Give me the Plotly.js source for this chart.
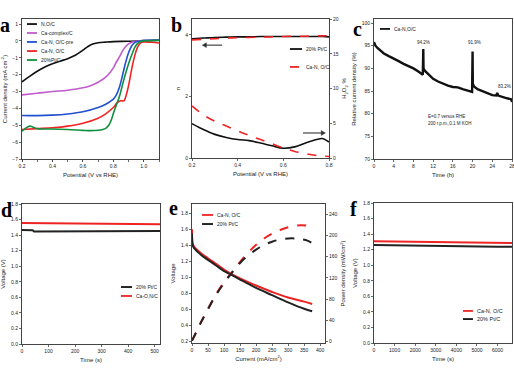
<!DOCTYPE html>
<html><head><meta charset="utf-8">
<script src="https://cdn.plot.ly/plotly-3.0.1.min.js"></script>
<style>html,body{margin:0;padding:0;background:#fff}#chart{width:514px;height:386px}</style>
</head><body><div id="chart"></div>
<script>
// ---------- Panel a : LSV curves ----------
const aNames = ['N,O/C','Ca-complex/C','Ca-N, O/C-pre','Ca-N, O/C','20%Pt/C'];
const aX_NOC = [0.2,0.25,0.3,0.35,0.4,0.45,0.5,0.55,0.6,0.63,0.66,0.7,0.75,0.8,0.9,1.0,1.1];
const aY_NOC = [-2.42,-2.1,-1.8,-1.55,-1.35,-1.2,-1.05,-0.85,-0.55,-0.35,-0.2,-0.11,-0.07,-0.04,-0.02,0.02,0.04];
const aX_Cplx = [0.2,0.3,0.4,0.5,0.6,0.65,0.7,0.75,0.78,0.8,0.82,0.84,0.86,0.88,0.9,0.92,0.95,1.0,1.1];
const aY_Cplx = [-3.2,-3.1,-3.0,-2.92,-2.78,-2.65,-2.45,-2.15,-1.85,-1.6,-1.25,-0.95,-0.6,-0.35,-0.18,-0.08,-0.02,0.02,0.04];
const aX_Pre = [0.2,0.3,0.4,0.5,0.6,0.7,0.75,0.8,0.82,0.84,0.86,0.88,0.9,0.92,0.94,0.96,1.0,1.1];
const aY_Pre = [-4.42,-4.43,-4.4,-4.33,-4.2,-3.95,-3.75,-3.45,-3.2,-2.75,-2.05,-1.3,-0.7,-0.3,-0.1,-0.03,0.02,0.05];
const aX_CaNOC = [0.2,0.3,0.4,0.5,0.6,0.7,0.75,0.8,0.83,0.85,0.87,0.88,0.9,0.92,0.94,0.96,0.98,1.0,1.05,1.1];
const aY_CaNOC = [-5.25,-5.2,-5.15,-5.05,-4.88,-4.58,-4.32,-3.95,-3.62,-3.55,-3.55,-3.35,-2.65,-1.7,-0.9,-0.35,-0.12,-0.06,-0.08,-0.12];
const aX_Pt = [0.2,0.22,0.25,0.27,0.3,0.35,0.4,0.5,0.6,0.65,0.7,0.73,0.75,0.77,0.79,0.8,0.82,0.84,0.86,0.88,0.9,0.92,0.94,0.96,0.98,1.0,1.1];
const aY_Pt = [-5.35,-5.2,-5.05,-5.1,-5.2,-5.22,-5.22,-5.25,-5.3,-5.32,-5.3,-5.25,-5.18,-5.0,-4.6,-4.3,-3.8,-3.3,-2.6,-1.95,-1.35,-0.85,-0.4,-0.15,-0.04,0.0,0.03];
const aColors = ['#111111','#c05ccc','#2150d0','#ee2424','#10903e'];

// ---------- Panel b : n and H2O2 % ----------
const bNames = ['20% Pt/C','Ca-N, O/C'];
const bPotential = [0.2,0.25,0.3,0.35,0.4,0.45,0.5,0.55,0.6,0.65,0.7,0.75,0.77,0.8];
const bN_Pt = [3.88,3.9,3.92,3.93,3.94,3.94,3.95,3.95,3.95,3.95,3.95,3.95,3.95,3.94];
const bN_CaNOC = [3.84,3.86,3.88,3.9,3.91,3.92,3.93,3.94,3.95,3.96,3.96,3.97,3.97,3.98];
const bH2O2_Pt = [4.95,4.1,3.4,2.95,2.65,2.5,2.15,1.75,1.4,1.6,2.2,2.7,2.8,2.3];
const bH2O2_CaNOC = [7.5,6.2,5.3,4.6,3.9,3.25,2.65,2.05,1.45,0.95,0.6,0.35,0.28,0.22];

// ---------- Panel c : chronoamperometry ----------
const cName = 'Ca-N,O/C';
const cTime = [0,0.3,0.7,1,1.5,2,3,4,5,6,7,8,9,9.9,10.0,10.05,10.3,11,12,13,14,15,16,17,18,19,19.9,20.0,20.05,20.3,21,22,23,24,24.8,25,25.2,26,27,27.8,28];
const cRel = [95.8,95.0,94.5,94.2,93.7,93.3,92.7,92.2,91.6,91.0,90.5,90.0,89.3,88.6,94.3,90.0,89.5,88.7,87.7,87.1,86.6,86.2,85.9,85.8,85.4,85.1,84.8,93.7,86.6,86.0,85.4,85.0,84.6,84.1,84.0,84.6,84.0,83.7,83.4,83.2,82.6];
const cLabels = ['94.2%','91.9%','83.2%'];
const cLabelX = [10.1,20.4,26.5];
const cLabelY = [95.8,95.8,85.9];
const cNote = ['E=0.7 versus RHE','200 r.p.m.,0.1 M KOH'];

// ---------- Panel d : voltage vs time ----------
const dNames = ['20% Pt/C','Ca-O,N/C'];
const dTimePt = [0,10,40,45,100,200,300,400,460,470,520];
const dVoltPt = [1.465,1.465,1.462,1.448,1.448,1.448,1.447,1.447,1.447,1.455,1.452];
const dTimeCa = [0,100,200,300,400,520];
const dVoltCa = [1.555,1.553,1.55,1.547,1.543,1.54];

// ---------- Panel e : polarization & power ----------
const eNames = ['Ca-N, O/C','20% Pt/C'];
const eCurrentV = [0,1,3,6,10,20,35,50,75,100,125,150,200,250,300,350,375];
const eVoltCa = [1.6,1.45,1.41,1.39,1.37,1.33,1.28,1.24,1.17,1.1,1.04,0.99,0.9,0.82,0.75,0.7,0.67];
const eVoltPt = [1.55,1.43,1.39,1.37,1.35,1.31,1.26,1.22,1.15,1.08,1.03,0.975,0.87,0.78,0.69,0.61,0.58];
const eCurrentP = [0,10,25,50,75,100,125,150,175,200,225,250,275,300,325,340,360,375];
const ePowerCa = [2,14,33,62,89,112,131,150,167,182,194,203,210,215,218,219,218,214];
const ePowerPt = [2,14,33,61,88,110,130,148,162,173,182,188,192,194,194,193,190,185];

// ---------- Panel f : voltage vs time ----------
const fNames = ['Ca-N, O/C','20% Pt/C'];
const fTime = [0,1000,2000,3000,4000,5000,6000,6700];
const fVoltCa = [1.307,1.303,1.298,1.295,1.292,1.289,1.287,1.286];
const fVoltPt = [1.26,1.255,1.25,1.247,1.244,1.241,1.239,1.238];

const RED = '#ee2424', BLACK = '#111111';
const FONT = 'Liberation Sans, Arial, sans-serif';

function dx(l, r) { return [l / 514, r / 514]; }
function dy(t, b) { return [1 - b / 386, 1 - t / 386]; }
function ax(extra) {
  return Object.assign({
    showgrid: false, zeroline: false, showline: true, linecolor: '#444', linewidth: 1,
    mirror: true, ticks: 'outside', ticklen: 2, tickwidth: 0.8, tickcolor: '#444',
    ticklabeloverflow: 'allow',
    tickfont: { size: 5, family: FONT, color: '#222' }, fixedrange: true
  }, extra);
}
function ttl(text, standoff) { return { text: text, font: { size: 6, family: FONT, color: '#222' }, standoff: standoff }; }

const traces = [];
const aXs = [aX_NOC, aX_Cplx, aX_Pre, aX_CaNOC, aX_Pt];
const aYs = [aY_NOC, aY_Cplx, aY_Pre, aY_CaNOC, aY_Pt];
aNames.forEach((n, i) => traces.push({ x: aXs[i], y: aYs[i], name: n, mode: 'lines', line: { color: aColors[i], width: 1.6, shape: 'spline' }, xaxis: 'x', yaxis: 'y' }));

traces.push({ x: bPotential, y: bN_Pt, name: bNames[0], mode: 'lines', line: { color: BLACK, width: 1.6, shape: 'spline' }, xaxis: 'x2', yaxis: 'y2' });
traces.push({ x: bPotential, y: bN_CaNOC, name: bNames[1], mode: 'lines', line: { color: RED, width: 1.6, dash: 'dash', shape: 'spline' }, xaxis: 'x2', yaxis: 'y2' });
traces.push({ x: bPotential, y: bH2O2_Pt, name: bNames[0], mode: 'lines', line: { color: BLACK, width: 1.6, shape: 'spline' }, xaxis: 'x2', yaxis: 'y3' });
traces.push({ x: bPotential, y: bH2O2_CaNOC, name: bNames[1], mode: 'lines', line: { color: RED, width: 1.6, dash: 'dash', shape: 'spline' }, xaxis: 'x2', yaxis: 'y3' });

traces.push({ x: cTime, y: cRel, name: cName, mode: 'lines', line: { color: BLACK, width: 2.4 }, xaxis: 'x3', yaxis: 'y4' });

traces.push({ x: dTimePt, y: dVoltPt, name: dNames[0], mode: 'lines', line: { color: '#222', width: 2 }, xaxis: 'x4', yaxis: 'y5' });
traces.push({ x: dTimeCa, y: dVoltCa, name: dNames[1], mode: 'lines', line: { color: RED, width: 2 }, xaxis: 'x4', yaxis: 'y5' });

traces.push({ x: eCurrentV, y: eVoltCa, name: eNames[0], mode: 'lines', line: { color: RED, width: 2, shape: 'spline' }, xaxis: 'x5', yaxis: 'y6' });
traces.push({ x: eCurrentV, y: eVoltPt, name: eNames[1], mode: 'lines', line: { color: '#222', width: 2, shape: 'spline' }, xaxis: 'x5', yaxis: 'y6' });
traces.push({ x: eCurrentP, y: ePowerCa, name: eNames[0], mode: 'lines', line: { color: RED, width: 2, dash: 'dash', shape: 'spline' }, xaxis: 'x5', yaxis: 'y7' });
traces.push({ x: eCurrentP, y: ePowerPt, name: eNames[1], mode: 'lines', line: { color: '#222', width: 2, dash: 'dash', shape: 'spline' }, xaxis: 'x5', yaxis: 'y7' });

traces.push({ x: fTime, y: fVoltCa, name: fNames[0], mode: 'lines', line: { color: RED, width: 2 }, xaxis: 'x6', yaxis: 'y8' });
traces.push({ x: fTime, y: fVoltPt, name: fNames[1], mode: 'lines', line: { color: '#222', width: 2 }, xaxis: 'x6', yaxis: 'y8' });

// legends drawn as short line samples + text, relative to each subplot's domain
const shapes = [], annotations = [];
function legendItem(xr, yr, x0, x1, y, color, dash, text, size) {
  shapes.push({ type: 'line', xref: xr + ' domain', yref: yr + ' domain', x0: x0, x1: x1, y0: y, y1: y, line: { color: color, width: 1.8, dash: dash || 'solid' } });
  annotations.push({ xref: xr + ' domain', yref: yr + ' domain', x: x1 + 0.015, y: y, text: text, showarrow: false, xanchor: 'left', yanchor: 'middle', font: { size: size || 5, family: FONT, color: '#222' } });
}
const aLegY = [0.964, 0.9, 0.836, 0.771, 0.707];
aNames.forEach((n, i) => legendItem('x', 'y', 0.036, 0.109, aLegY[i], aColors[i], 'solid', n));
legendItem('x2', 'y2', 0.715, 0.803, 0.784, BLACK, 'solid', bNames[0]);
legendItem('x2', 'y2', 0.715, 0.803, 0.655, RED, 'dash', bNames[1]);
legendItem('x3', 'y4', 0.043, 0.116, 0.929, BLACK, 'solid', cName);
legendItem('x4', 'y5', 0.717, 0.797, 0.407, BLACK, 'solid', dNames[0]);
legendItem('x4', 'y5', 0.717, 0.797, 0.343, RED, 'solid', dNames[1]);
legendItem('x5', 'y6', 0.075, 0.158, 0.921, RED, 'solid', eNames[0]);
legendItem('x5', 'y6', 0.075, 0.158, 0.856, BLACK, 'solid', eNames[1]);
legendItem('x6', 'y8', 0.645, 0.717, 0.229, RED, 'solid', fNames[0], 5.5);
legendItem('x6', 'y8', 0.645, 0.717, 0.171, BLACK, 'solid', fNames[1], 5.5);

// panel c text
cLabels.forEach((t, i) => annotations.push({ xref: 'x3', yref: 'y4', x: cLabelX[i], y: cLabelY[i], text: t, showarrow: false, font: { size: 4.5, family: FONT, color: '#222' } }));
annotations.push({ xref: 'x3', yref: 'y4', x: 10.5, y: 79.4, text: cNote[0], showarrow: false, xanchor: 'left', font: { size: 4.5, family: FONT, color: '#222' } });
annotations.push({ xref: 'x3', yref: 'y4', x: 10.5, y: 77.9, text: cNote[1], showarrow: false, xanchor: 'left', font: { size: 4.5, family: FONT, color: '#222' } });

// panel b arrows (line + head)
shapes.push({ type: 'line', xref: 'x2', yref: 'y2', x0: 0.255, x1: 0.332, y0: 3.67, y1: 3.67, line: { color: '#333', width: 1.1 } });
shapes.push({ type: 'path', xref: 'x2', yref: 'y2', path: 'M0.245,3.67 L0.263,3.745 L0.263,3.595 Z', fillcolor: '#333', line: { color: '#333', width: 0.5 } });
shapes.push({ type: 'line', xref: 'x2', yref: 'y3', x0: 0.686, x1: 0.774, y0: 3.6, y1: 3.6, line: { color: '#333', width: 1.1 } });
shapes.push({ type: 'path', xref: 'x2', yref: 'y3', path: 'M0.784,3.6 L0.766,3.95 L0.766,3.25 Z', fillcolor: '#333', line: { color: '#333', width: 0.5 } });

// panel letters
const letters = ['a', 'b', 'c', 'd', 'e', 'f'];
const letterX = [5, 176, 357, 6, 173, 353];
const letterY = [25, 25, 29, 210, 208, 209];
letters.forEach((l, i) => annotations.push({ xref: 'paper', yref: 'paper', x: letterX[i] / 514, y: 1 - letterY[i] / 386, text: l, showarrow: false, xanchor: 'center', yanchor: 'middle', font: { size: 20, weight: 700, family: 'Liberation Serif, Times New Roman, serif', color: '#000' } }));

const layout = {
  width: 514, height: 386, margin: { l: 0, r: 0, t: 0, b: 0 }, showlegend: false,
  paper_bgcolor: '#fff', plot_bgcolor: '#fff',
  xaxis: ax({ domain: dx(22, 159), anchor: 'y', range: [0.2, 1.1], tickvals: [0.2, 0.4, 0.6, 0.8, 1.0], ticktext: ['0.2', '0.4', '0.6', '0.8', '1.0'], minor: { dtick: 0.1, ticks: 'outside', ticklen: 1.5, tickcolor: '#444' }, title: ttl('Potential (V vs RHE)', 4) }),
  yaxis: ax({ domain: dy(19, 159), anchor: 'x', range: [-7, 1.3], dtick: 1, title: ttl('Current density (mA cm<sup>-2</sup>)', 4) }),
  xaxis2: ax({ domain: dx(192, 329), anchor: 'y2', range: [0.2, 0.8], tickvals: [0.2, 0.4, 0.6, 0.8], ticktext: ['0.2', '0.4', '0.6', '0.8'], title: ttl('Potential (V vs RHE)', 4) }),
  yaxis2: ax({ domain: dy(19, 158), anchor: 'x2', range: [0, 4.52], tickvals: [0, 2, 4], title: ttl('n', 4) }),
  yaxis3: ax({ overlaying: 'y2', side: 'right', anchor: 'x2', range: [0, 20], tickvals: [0, 5, 10, 15, 20], mirror: false, title: ttl('H<sub>2</sub>O<sub>2</sub> %', 4) }),
  xaxis3: ax({ domain: dx(374, 512), anchor: 'y4', range: [0, 28], dtick: 4, title: ttl('Time (h)', 4) }),
  yaxis4: ax({ domain: dy(19, 159), anchor: 'x3', range: [70, 100.9], dtick: 5, title: ttl('Relative current density (%)', 4) }),
  xaxis4: ax({ domain: dx(22, 160), anchor: 'y5', range: [0, 520], dtick: 100, title: ttl('Time (s)', 4) }),
  yaxis5: ax({ domain: dy(204, 344), anchor: 'x4', range: [0, 1.8], dtick: 0.2, tickformat: '.1f', title: ttl('Voltage (V)', 4) }),
  xaxis5: ax({ domain: dx(192, 325), anchor: 'y6', range: [0, 415], dtick: 50, title: ttl('Current (mA/cm<sup>2</sup>)', 4) }),
  yaxis6: ax({ domain: dy(204, 343), anchor: 'x5', range: [0.184, 1.916], tickvals: [0.2, 0.4, 0.6, 0.8, 1.0, 1.2, 1.4, 1.6, 1.8], tickformat: '.1f', title: ttl('Voltage', 4) }),
  yaxis7: ax({ overlaying: 'y6', side: 'right', anchor: 'x5', range: [-2.4, 258.8], tickvals: [0, 40, 80, 120, 160, 200, 240], mirror: false, title: ttl('Power density (mW/cm<sup>2</sup>)', 4) }),
  xaxis6: ax({ domain: dx(374, 512), anchor: 'y8', range: [0, 6700], dtick: 1000, title: ttl('Time (s)', 4) }),
  yaxis8: ax({ domain: dy(203, 343), anchor: 'x6', range: [0, 1.8], dtick: 0.2, tickformat: '.1f', title: ttl('Voltage (V)', 4) }),
  shapes: shapes, annotations: annotations
};

Plotly.newPlot('chart', traces, layout, { staticPlot: true, displayModeBar: false });
</script></body></html>
